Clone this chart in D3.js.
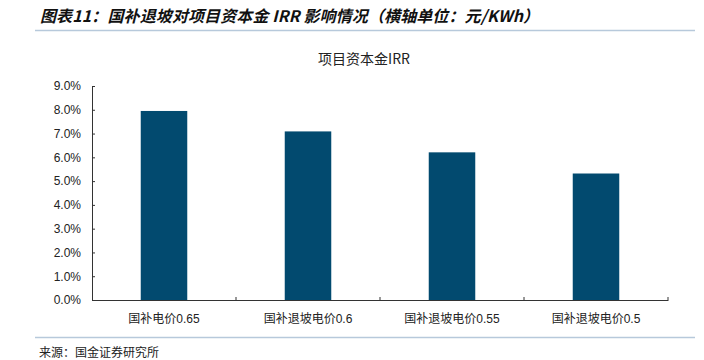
<!DOCTYPE html>
<html>
<head>
<meta charset="utf-8">
<script src="https://cdn.jsdelivr.net/npm/d3@7"></script>
<style>
  body { margin: 0; background: #fff; }
  text { font-family: "Liberation Sans", Arial, "Noto Sans CJK SC", sans-serif; }
</style>
</head>
<body>
<div id="chart"></div>
<script>
// chart data
const categories = ["国补电价0.65", "国补退坡电价0.6", "国补退坡电价0.55", "国补退坡电价0.5"]
const irrValues = [7.95, 7.09, 6.21, 5.32]
const yTicks = [0, 1, 2, 3, 4, 5, 6, 7, 8, 9]

const WIDTH = 704
const HEIGHT = 360
const PLOT = {LEFT: 92, RIGHT: 668, TOP: 86, BOTTOM: 300}
const barColour = "#024a6f"
const ruleColour = "#b7c9db"
const cjk = "'Noto Sans CJK SC', sans-serif"
const latin = "'Liberation Sans', Arial, sans-serif"

let svg = d3.select("#chart").append("svg")
    .attr("width", WIDTH)
    .attr("height", HEIGHT)

// header title and rule
svg.append("text")
    .attr("x", 40).attr("y", 22)
    .style("font-family", cjk)
    .style("font-size", "16px")
    .style("font-weight", "bold")
    .style("font-style", "italic")
    .style("fill", "#111")
    .attr("textLength", 499)
    .text("图表11：国补退坡对项目资本金 IRR 影响情况（横轴单位：元/KWh）")

svg.append("line")
    .attr("x1", 35).attr("x2", 695)
    .attr("y1", 30.5).attr("y2", 30.5)
    .style("stroke", ruleColour).style("stroke-width", 1.5)

// chart title
svg.append("text")
    .attr("x", 364).attr("y", 64)
    .attr("text-anchor", "middle")
    .style("font-family", cjk)
    .style("font-size", "14px")
    .style("fill", "#222")
    .text("项目资本金IRR")

// scales
let xScale = d3.scaleBand()
    .domain(categories)
    .range([PLOT.LEFT, PLOT.RIGHT])
    .paddingInner(0.677)
    .paddingOuter(0.677 / 2)

let bandScale = d3.scaleBand()
    .domain(categories)
    .range([PLOT.LEFT, PLOT.RIGHT])

let yScale = d3.scaleLinear()
    .domain([0, 9])
    .range([PLOT.BOTTOM, PLOT.TOP])

// bars
svg.append("g").selectAll("rect")
    .data(irrValues)
    .join("rect")
    .attr("x", (d, i) => xScale(categories[i]))
    .attr("width", xScale.bandwidth())
    .attr("y", d => yScale(d))
    .attr("height", d => PLOT.BOTTOM - yScale(d))
    .style("fill", barColour)

// y axis
let yAxis = svg.append("g")
    .attr("transform", "translate(" + PLOT.LEFT + ",0)")
    .call(d3.axisLeft(yScale).tickValues(yTicks).tickSize(-3).tickPadding(11)
        .tickFormat(d => d.toFixed(1) + "%"))
yAxis.select(".domain").style("stroke", "#333")
yAxis.selectAll(".tick line").style("stroke", "#333")
yAxis.selectAll("text")
    .style("font-family", latin)
    .style("font-size", "12px")
    .style("fill", "#222")

// x axis
let xAxis = svg.append("g")
    .attr("transform", "translate(0," + PLOT.BOTTOM + ")")
    .call(d3.axisBottom(bandScale).tickSize(0).tickPadding(14))
xAxis.select(".domain").style("stroke", "#333")
xAxis.selectAll("text")
    .style("font-size", "12px")
    .style("fill", "#222")
    .each(function(d) {
        // CJK part and number part in their own fonts
        let el = d3.select(this)
        let m = d.match(/^(\D+)([\d.]+)$/)
        el.text(null)
        el.append("tspan").style("font-family", cjk).text(m[1])
        el.append("tspan").style("font-family", latin).text(m[2])
    })

// category boundary ticks on the x axis (pointing up)
svg.append("g").selectAll("line")
    .data(categories)
    .join("line")
    .attr("x1", d => bandScale(d) + bandScale.bandwidth())
    .attr("x2", d => bandScale(d) + bandScale.bandwidth())
    .attr("y1", PLOT.BOTTOM)
    .attr("y2", PLOT.BOTTOM - 3)
    .style("stroke", "#333")

// footer rule and source
svg.append("line")
    .attr("x1", 35).attr("x2", 695)
    .attr("y1", 337.5).attr("y2", 337.5)
    .style("stroke", ruleColour).style("stroke-width", 1.5)

svg.append("text")
    .attr("x", 39).attr("y", 357)
    .style("font-family", cjk)
    .style("font-size", "12px")
    .style("fill", "#222")
    .text("来源：国金证券研究所")
</script>
</body>
</html>
